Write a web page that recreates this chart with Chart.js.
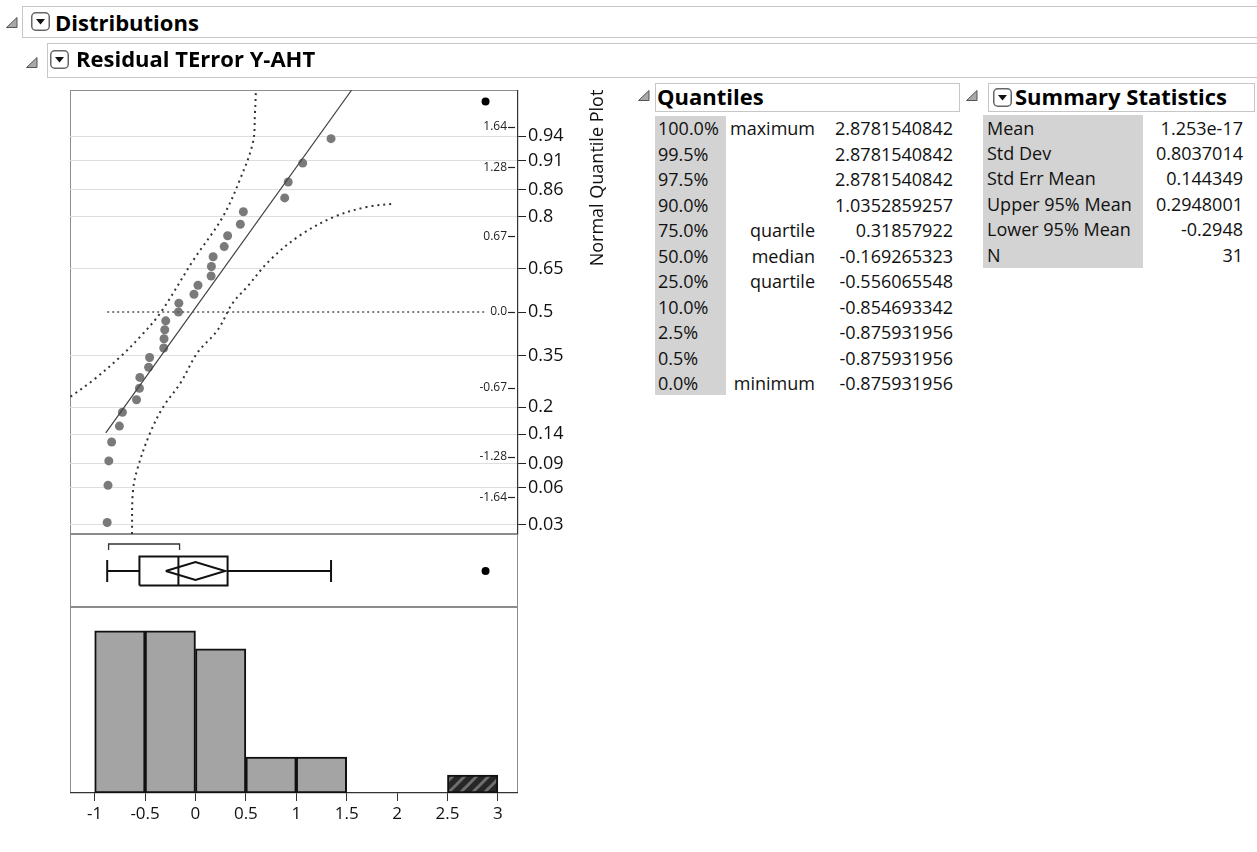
<!DOCTYPE html>
<html lang="en">
<head>
<meta charset="utf-8">
<title>Distributions - Residual TError Y-AHT</title>
<script src="https://cdn.jsdelivr.net/npm/chart.js@4.4.1/dist/chart.umd.min.js"></script>
<style>
  html, body { margin: 0; padding: 0; background: #fff; }
  body { font-family: "Open Sans", sans-serif; color: #111; }
  #page { position: relative; width: 1257px; height: 852px; overflow: hidden; }
  #page canvas, .abs { position: absolute; }
  .abs svg { display: block; }
  .outline { position: absolute; border: 1px solid #c6c6c6; box-sizing: border-box; }
  .hdr { position: absolute; font-weight: 700; font-size: 22px; line-height: 30px; white-space: nowrap; color: #000; }
  .row { position: absolute; font-size: 18px; line-height: 25.5px; white-space: nowrap; }
  .shade { position: absolute; background: #d3d3d3; }
  .vlabel { position: absolute; width: 220px; left: 486px; top: 166px; text-align: center;
            font-size: 18px; line-height: 24px; transform: rotate(-90deg); white-space: nowrap; }
</style>
</head>
<body>
<div id="page">
  <canvas id="qq" width="538" height="454" style="left:70px;top:90px"></canvas>
  <canvas id="box" width="448" height="73" style="left:70px;top:534px"></canvas>
  <canvas id="hist" width="448" height="226" style="left:70px;top:607px"></canvas>
  <div class="vlabel">Normal Quantile Plot</div>
</div>
<script>
// residus tries, le dernier est l'outlier
const residuals = [-0.876, -0.868, -0.86, -0.832, -0.755, -0.725, -0.585, -0.556, -0.552, -0.465,
  -0.455, -0.315, -0.312, -0.305, -0.295, -0.169, -0.165, -0.015, 0.025, 0.155,
  0.158, 0.175, 0.285, 0.319, 0.445, 0.475, 0.885, 0.92, 1.064, 1.345, 2.878];

// histogramme
const binStart = [-1, -0.5, 0, 0.5, 1, 2.5];
const binCounts = [9, 9, 8, 2, 2, 1];
const binWidth = 0.5;
const xTicks = [-1, -0.5, 0, 0.5, 1, 1.5, 2, 2.5, 3];
const xTickLabels = ["-1", "-0.5", "0", "0.5", "1", "1.5", "2", "2.5", "3"];

// eixos do normal quantile plot
const zTicks = [1.64, 1.28, 0.67, 0, -0.67, -1.28, -1.64];
const zLabels = ["1.64", "1.28", "0.67", "0.0", "-0.67", "-1.28", "-1.64"];
const probTicks = [0.94, 0.91, 0.86, 0.8, 0.65, 0.5, 0.35, 0.2, 0.14, 0.09, 0.06, 0.03];
const probLabels = ["0.94", "0.91", "0.86", "0.8", "0.65", "0.5", "0.35", "0.2", "0.14", "0.09", "0.06", "0.03"];

// linha ajustada, linha de referencia e bandas de confianca
const fitLineX = [-0.89, 1.55];
const fitLineZ = [-1.07, 1.965];
const refLineX = [-0.876, 2.89];
const bandLeftX = [-1.24, -1.01, -0.75, -0.55, -0.35, -0.02, 0.27, 0.44, 0.57, 0.59, 0.6];
const bandLeftZ = [-0.75, -0.6, -0.4, -0.22, -0.01, 0.46, 0.84, 1.17, 1.5, 1.76, 1.965];
const bandRightX = [-0.63, -0.62, -0.57, -0.45, -0.32, -0.15, 0.02, 0.22, 0.37, 0.51, 0.74, 1.04, 1.37, 1.7, 1.98];
const bandRightZ = [-1.965, -1.58, -1.37, -1.07, -0.84, -0.63, -0.36, -0.16, 0.08, 0.22, 0.46, 0.68, 0.84, 0.93, 0.96];

// tabelas
const quantilePct = ["100.0%", "99.5%", "97.5%", "90.0%", "75.0%", "50.0%", "25.0%", "10.0%", "2.5%", "0.5%", "0.0%"];
const quantileNote = ["maximum", "", "", "", "quartile", "median", "quartile", "", "", "", "minimum"];
const quantileVal = ["2.8781540842", "2.8781540842", "2.8781540842", "1.0352859257", "0.31857922",
  "-0.169265323", "-0.556065548", "-0.854693342", "-0.875931956", "-0.875931956", "-0.875931956"];
const statNames = ["Mean", "Std Dev", "Std Err Mean", "Upper 95% Mean", "Lower 95% Mean", "N"];
const statValues = ["1.253e-17", "0.8037014", "0.144349", "0.2948001", "-0.2948", "31"];
const shortestHalf = [-0.862, -0.158];

const font = '"Open Sans", sans-serif';
Chart.defaults.font.family = font;
Chart.defaults.color = "#111";

const page = document.getElementById("page");
function place(html, left, top, cls, extra) {
  const d = document.createElement("div");
  d.className = cls || "abs";
  d.style.left = left + "px";
  d.style.top = top + "px";
  if (extra) Object.assign(d.style, extra);
  d.innerHTML = html;
  page.appendChild(d);
  return d;
}
const triSvg = '<svg width="12" height="11" viewBox="0 0 12 11"><polygon points="11,0.5 11,10.5 0.5,10.5" fill="#a8a8a8" stroke="#555"/></svg>';
const dropSvg = '<svg width="19" height="19" viewBox="0 0 19 19"><rect x="0.75" y="0.75" width="17.5" height="17.5" rx="4" fill="#fff" stroke="#666" stroke-width="1.5"/><polygon points="5,7 14,7 9.5,12.5" fill="#111"/></svg>';
function outline(l, t, w, h) {
  place("", l, t, "outline", { width: w + "px", height: h + "px" });
}

// cabecalhos
outline(22, 6, 1250, 32);
place(triSvg, 6, 17);
place(dropSvg, 31, 12);
place("Distributions", 55, 7, "hdr");
outline(47, 43, 1220, 35);
place(triSvg, 26, 57);
place(dropSvg, 50, 50);
place("Residual TError Y-AHT", 76, 43, "hdr");
outline(655, 83, 305, 29);
place(triSvg, 638, 90);
place("Quantiles", 657, 81, "hdr");
outline(988, 83, 267, 29);
place(triSvg, 966, 90);
place(dropSvg, 993, 88);
place("Summary Statistics", 1015, 81, "hdr");

// tabela de quantis
place("", 655, 116, "shade", { width: "71px", height: "279px" });
quantilePct.forEach((p, i) => {
  const top = 116.4 + i * 25.5;
  place(p, 658, top, "row");
  place(quantileNote[i], 730, top, "row", { width: "85px", textAlign: "right" });
  place(quantileVal[i], 820, top, "row", { width: "133px", textAlign: "right" });
});

// estatisticas
place("", 983, 115, "shade", { width: "160px", height: "153px" });
statNames.forEach((s, i) => {
  const top = 115.5 + i * 25.4;
  place(s, 987, top, "row");
  place(statValues[i], 1143, top, "row", { width: "100px", textAlign: "right" });
});

// inverse normal (Acklam)
function qnorm(p) {
  const a = [-39.69683028665376, 220.9460984245205, -275.9285104469687, 138.357751867269, -30.66479806614716, 2.506628277459239];
  const b = [-54.47609879822406, 161.5858368580409, -155.6989798598866, 66.80131188771972, -13.28068155288572];
  const c = [-0.007784894002430293, -0.3223964580411365, -2.400758277161838, -2.549732539343734, 4.374664141464968, 2.938163982698783];
  const d = [0.007784695709041462, 0.3224671290700398, 2.445134137142996, 3.754408661907416];
  const pl = 0.02425;
  if (p < pl || p > 1 - pl) {
    const q = Math.sqrt(-2 * Math.log(p < pl ? p : 1 - p));
    const v = (((((c[0] * q + c[1]) * q + c[2]) * q + c[3]) * q + c[4]) * q + c[5]) /
      ((((d[0] * q + d[1]) * q + d[2]) * q + d[3]) * q + 1);
    return p < pl ? v : -v;
  }
  const q = p - 0.5, r = q * q;
  return (((((a[0] * r + a[1]) * r + a[2]) * r + a[3]) * r + a[4]) * r + a[5]) * q /
    (((((b[0] * r + b[1]) * r + b[2]) * r + b[3]) * r + b[4]) * r + 1);
}

const xMin = -1.245, xMax = 3.2;
const zMax = 1.965;
const n = residuals.length;

const q1 = Number(quantileVal[6]), med = Number(quantileVal[5]), q3 = Number(quantileVal[4]);
const minVal = Number(quantileVal[10]);
const fenceHi = q3 + 1.5 * (q3 - q1);
const whiskerHi = Math.max(...residuals.filter(v => v <= fenceHi));
const meanVal = Number(statValues[0]);
const meanLo = Number(statValues[4]), meanHi = Number(statValues[3]);

const normalPts = [], outlierPts = [];
residuals.forEach((v, i) => {
  const pt = { x: v, y: qnorm((i + 1) / (n + 1)) };
  (v > fenceHi ? outlierPts : normalPts).push(pt);
});

const framePlugin = {
  id: "frame",
  beforeDraw(chart) {
    const { ctx, chartArea: a } = chart;
    ctx.save();
    ctx.strokeStyle = "#8c8c8c";
    ctx.lineWidth = 1;
    ctx.strokeRect(a.left + 0.5, a.top + 0.5, a.width - 1, a.height - 1);
    ctx.restore();
  }
};

// tracinhos internos dos z labels
const innerTicks = {
  id: "innerTicks",
  afterDraw(chart) {
    const s = chart.scales.y, a = chart.chartArea, ctx = chart.ctx;
    ctx.save();
    ctx.strokeStyle = "#222";
    ctx.lineWidth = 1.2;
    s.ticks.forEach(t => {
      const y = Math.round(s.getPixelForValue(t.value)) + 0.5;
      ctx.beginPath();
      ctx.moveTo(a.right - 10, y);
      ctx.lineTo(a.right - 3, y);
      ctx.stroke();
    });
    ctx.restore();
  }
};

function toPts(xs, ys) {
  return xs.map((x, i) => ({ x: x, y: ys[i] }));
}
const dotted = { showLine: true, borderColor: "#333", borderWidth: 2, borderDash: [2, 4], pointRadius: 0, fill: false };

new Chart(document.getElementById("qq"), {
  type: "scatter",
  data: {
    datasets: [
      Object.assign({ data: toPts(bandLeftX, bandLeftZ), tension: 0.35 }, dotted),
      Object.assign({ data: toPts(bandRightX, bandRightZ), tension: 0.35 }, dotted),
      Object.assign({ data: toPts(refLineX, [0, 0]) }, dotted, { borderWidth: 1.6, borderColor: "#555", borderDash: [2, 3] }),
      { data: toPts(fitLineX, fitLineZ), showLine: true, borderColor: "#404040", borderWidth: 1.2, pointRadius: 0 },
      { data: normalPts, pointRadius: 4.5, backgroundColor: "#7a7a7a", borderWidth: 0 },
      { data: outlierPts, pointRadius: 4, backgroundColor: "#000", borderWidth: 0 }
    ]
  },
  options: {
    responsive: false,
    animation: false,
    events: [],
    layout: { autoPadding: false, padding: { top: 0, left: 0, right: 0, bottom: 10 } },
    plugins: { legend: { display: false }, tooltip: { enabled: false } },
    scales: {
      x: { type: "linear", min: xMin, max: xMax, display: false },
      y: {
        type: "linear", position: "right", min: -zMax, max: zMax, weight: 0,
        afterBuildTicks: s => { s.ticks = zTicks.map(v => ({ value: v })); },
        afterFit: s => { s.width = 0; s.paddingTop = 0; s.paddingBottom = 0; },
        grid: { display: false, drawTicks: false },
        border: { display: false },
        ticks: { mirror: true, padding: -11, autoSkip: false, font: { size: 12 }, color: "#222",
          callback: (v, i) => zLabels[i] }
      },
      yp: {
        type: "linear", position: "right", min: -zMax, max: zMax, weight: 1,
        afterBuildTicks: s => { s.ticks = probTicks.map(p => ({ value: qnorm(p) })); },
        afterFit: s => { s.width = 90; s.paddingTop = 0; s.paddingBottom = 0; },
        grid: {
          color: c => (probTicks[c.index] === 0.5 ? "rgba(0,0,0,0)" : "#dedede"),
          tickColor: "#222", tickLength: 8, lineWidth: 1
        },
        border: { display: true, color: "#333", width: 1.2 },
        ticks: { padding: 2, autoSkip: false, font: { size: 18 }, color: "#111",
          callback: (v, i) => probLabels[i] }
      }
    }
  },
  plugins: [framePlugin, innerTicks]
});

// box plot (alturas em pixels a partir do fundo do painel)
const lay = { mid: 36, boxHalf: 14.5, capHalf: 11, diamondHalf: 9, bracketY: 63, bracketTick: 57 };
function seg(points, extra) {
  return Object.assign({ data: points, showLine: true, borderColor: "#111", borderWidth: 2, pointRadius: 0, fill: false }, extra || {});
}
const m = lay.mid;
new Chart(document.getElementById("box"), {
  type: "scatter",
  data: {
    datasets: [
      seg([{ x: q1, y: m - lay.boxHalf }, { x: q3, y: m - lay.boxHalf }, { x: q3, y: m + lay.boxHalf },
           { x: q1, y: m + lay.boxHalf }, { x: q1, y: m - lay.boxHalf }]),
      seg([{ x: med, y: m - lay.boxHalf }, { x: med, y: m + lay.boxHalf }]),
      seg([{ x: minVal, y: m }, { x: q1, y: m }]),
      seg([{ x: q3, y: m }, { x: whiskerHi, y: m }]),
      seg([{ x: minVal, y: m - lay.capHalf }, { x: minVal, y: m + lay.capHalf }]),
      seg([{ x: whiskerHi, y: m - lay.capHalf }, { x: whiskerHi, y: m + lay.capHalf }]),
      seg([{ x: meanLo, y: m }, { x: meanVal, y: m + lay.diamondHalf }, { x: meanHi, y: m },
           { x: meanVal, y: m - lay.diamondHalf }, { x: meanLo, y: m }]),
      seg([{ x: shortestHalf[0], y: lay.bracketTick }, { x: shortestHalf[0], y: lay.bracketY },
           { x: shortestHalf[1], y: lay.bracketY }, { x: shortestHalf[1], y: lay.bracketTick }], { borderWidth: 1.3, borderColor: "#333" }),
      { data: outlierPts.map(p => ({ x: p.x, y: m })), pointRadius: 4, backgroundColor: "#000", borderWidth: 0 }
    ]
  },
  options: {
    responsive: false,
    animation: false,
    events: [],
    layout: { autoPadding: false, padding: 0 },
    plugins: { legend: { display: false }, tooltip: { enabled: false } },
    scales: {
      x: { type: "linear", min: xMin, max: xMax, display: false },
      y: { type: "linear", min: 0, max: 73, display: false }
    }
  },
  plugins: [framePlugin]
});

// histograma
const histCanvas = document.getElementById("hist");
function hatch() {
  const c = document.createElement("canvas");
  c.width = 12; c.height = 12;
  const g = c.getContext("2d");
  g.fillStyle = "#262626";
  g.fillRect(0, 0, 12, 12);
  g.strokeStyle = "#6e6e6e";
  g.lineWidth = 3;
  g.beginPath();
  g.moveTo(-3, 15); g.lineTo(15, -3);
  g.moveTo(-3, 3); g.lineTo(3, -3);
  g.moveTo(9, 15); g.lineTo(15, 9);
  g.stroke();
  return histCanvas.getContext("2d").createPattern(c, "repeat");
}
const hatchFill = hatch();
const outlierVal = outlierPts.length ? outlierPts[0].x : null;
const binColors = binStart.map(s =>
  outlierVal !== null && outlierVal >= s && outlierVal < s + binWidth ? hatchFill : "#a4a4a4");

new Chart(histCanvas, {
  type: "bar",
  data: {
    datasets: [{
      data: binStart.map((s, i) => ({ x: s + binWidth / 2, y: binCounts[i] })),
      backgroundColor: binColors,
      borderColor: "#111",
      borderWidth: 2,
      borderSkipped: false,
      barPercentage: 1,
      categoryPercentage: 1
    }]
  },
  options: {
    responsive: false,
    animation: false,
    events: [],
    layout: { autoPadding: false, padding: 0 },
    plugins: { legend: { display: false }, tooltip: { enabled: false } },
    scales: {
      x: {
        type: "linear", min: xMin, max: xMax, offset: false,
        afterBuildTicks: s => { s.ticks = xTicks.map(v => ({ value: v })); },
        afterFit: s => { s.height = 40; s.paddingLeft = 0; s.paddingRight = 0; },
        grid: { drawOnChartArea: false, offset: false, tickLength: 8, tickColor: "#333" },
        border: { display: true, color: "#333", width: 1.2 },
        ticks: { padding: 3, autoSkip: false, maxRotation: 0, font: { size: 17 }, color: "#111",
          callback: (v, i) => xTickLabels[i] }
      },
      y: { type: "linear", min: 0, max: 10.33, display: false }
    }
  },
  plugins: [framePlugin]
});
</script>
</body>
</html>
